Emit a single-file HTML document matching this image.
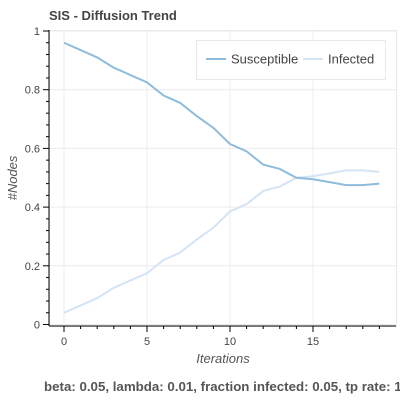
<!DOCTYPE html>
<html><head><style>
body{margin:0;background:#fff;width:400px;height:400px;overflow:hidden;font-family:"Liberation Sans",Arial,sans-serif}
</style></head><body>
<svg width="400" height="400" xmlns="http://www.w3.org/2000/svg">
<text x="49" y="20" font-size="13" font-weight="bold" fill="#444">SIS - Diffusion Trend</text>
<g id="grid"></g>
<g id="axes"></g>
<g id="series"></g>
<text x="223" y="363" font-size="13" font-style="italic" fill="#555" text-anchor="middle">Iterations</text>
<text transform="translate(17,178) rotate(-90)" font-size="13" font-style="italic" fill="#555" text-anchor="middle">#Nodes</text>
<text x="44" y="391" font-size="13.3" font-weight="bold" fill="#555">beta: 0.05, lambda: 0.01, fraction infected: 0.05, tp rate: 1</text>
<g>
<rect x="196.5" y="40.5" width="189" height="39" fill="#fff" stroke="#e8e8e8"/>
<line x1="206" x2="226" y1="59" y2="59" stroke="#8fbcdc" stroke-width="2"/>
<text x="231" y="63.5" font-size="13" fill="#444">Susceptible</text>
<line x1="303" x2="323" y1="59" y2="59" stroke="#d4e4f4" stroke-width="2"/>
<text x="328" y="63.5" font-size="13" fill="#444">Infected</text>
</g>
</svg>
<script>
const iterations=[0,1,2,3,4,5,6,7,8,9,10,11,12,13,14,15,16,17,18,19];
const susceptible=[0.96,0.935,0.91,0.875,0.85,0.825,0.78,0.755,0.71,0.67,0.615,0.59,0.545,0.53,0.5,0.495,0.485,0.475,0.475,0.48];
const infected=[0.04,0.065,0.09,0.125,0.15,0.175,0.22,0.245,0.29,0.33,0.385,0.41,0.455,0.47,0.5,0.505,0.515,0.525,0.525,0.52];
const xTicks=[0,5,10,15];
const yTicks=[0,0.2,0.4,0.6,0.8,1];
const yTickLabels=["0","0.2","0.4","0.6","0.8","1"];
const NS="http://www.w3.org/2000/svg";
const X=v=>64+v*16.6;
const Y=v=>324.5-v*293.5;
const L=49,R=396,T=30,B=326;
function mk(t,a,p){const e=document.createElementNS(NS,t);for(const k in a)e.setAttribute(k,a[k]);p.appendChild(e);return e;}
const grid=document.getElementById('grid'),axes=document.getElementById('axes'),series=document.getElementById('series');
mk('rect',{x:L+0.5,y:T+0.5,width:R-L,height:B-T,fill:'none',stroke:'#e8e8e8'},grid);
xTicks.forEach(v=>{mk('line',{x1:X(v),x2:X(v),y1:T,y2:B,stroke:'#ececec'},grid);});
yTicks.forEach(v=>{mk('line',{x1:L,x2:R,y1:Y(v),y2:Y(v),stroke:'#ececec'},grid);});
mk('line',{x1:L,x2:L,y1:T,y2:B,stroke:'#000'},axes);
mk('line',{x1:L,x2:R,y1:B,y2:B,stroke:'#000'},axes);
for(let i=0;i<=19;i++){if(i%5)mk('line',{x1:X(i),x2:X(i),y1:B,y2:B+3,stroke:'#000'},axes);}
xTicks.forEach(v=>{mk('line',{x1:X(v),x2:X(v),y1:B,y2:B+6,stroke:'#000'},axes);
 const t=mk('text',{x:X(v),y:B+19,'font-size':11,fill:'#444','text-anchor':'middle'},axes);t.textContent=v;
 
 });
for(let k=0;k<=25;k++){const v=k*0.04;mk('line',{x1:L-(k%5==0?6:3),x2:L,y1:Y(v),y2:Y(v),stroke:'#000'},axes);}
yTicks.forEach((v,i)=>{const t=mk('text',{x:L-9,y:Y(v)+4,'font-size':11,fill:'#444','text-anchor':'end'},axes);t.textContent=yTickLabels[i];
 
 });
function line(d,c,n){const p=mk('polyline',{points:d.map((v,i)=>X(iterations[i])+','+Y(v)).join(' '),fill:'none',stroke:c,'stroke-width':2},series);
 
 }
line(infected,'#d4e4f4','infected-line');
line(susceptible,'#8fbcdc','susceptible-line');
</script>
</body></html>
